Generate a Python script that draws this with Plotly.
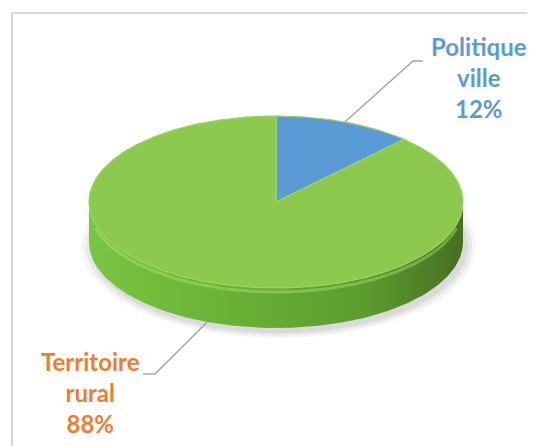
import numpy as np
import plotly.graph_objects as go

# ---- data ----
categories = ["Politique ville", "Territoire rural"]
values = [12, 88]
label_lines = [["Politique", "ville"], ["Territoire", "rural"]]

# ---- styles / layout constants ----
face_colors = ["#5B9BD5", "#8DC94E"]
label_colors = ["#5B9BD5", "#ED7D31"]
label_centers = [(479, 77), (90, 392)]
leader_elbows = [(413, 61), (155, 374)]
leader_ends = [(423, 61), (143, 374)]

W, H = 535, 446
PAD = 8  # page body margin
cx, cy, rx, ry, depth = 276, 202, 187, 86, 40


def pt(theta_deg, dy=0.0):
    t = np.radians(theta_deg)
    return cx + rx * np.sin(t), cy - ry * np.cos(t) + dy


total = float(sum(values))
fig = go.Figure()

# soft shadow under the disc
for grow, alpha in [(10, 0.04), (6, 0.05), (2, 0.06)]:
    th = np.linspace(0, 360, 241)
    t = np.radians(th)
    sx = cx + 3 + (rx + grow) * np.sin(t)
    sy = cy + depth + 4 - (ry + grow * 0.6) * np.cos(t)
    fig.add_trace(go.Scatter(x=sx, y=sy, mode="lines", fill="toself",
                             fillcolor=f"rgba(0,0,0,{alpha})",
                             line=dict(width=0), hoverinfo="skip"))

# side band (visible lower half) of the disc
th = np.linspace(90, 270, 181)
tx, ty = pt(th)
bx, by = pt(th[::-1], depth)
fig.add_trace(go.Scatter(
    x=np.concatenate([tx, bx]), y=np.concatenate([ty, by]),
    mode="lines", fill="toself",
    fillgradient=dict(type="horizontal",
                      colorscale=[[0, "#79C643"], [0.35, "#6BB236"],
                                  [0.75, "#5C9A2E"], [1, "#466F22"]]),
    line=dict(width=0), hoverinfo="skip"))

# bevel highlight along the rim
th = np.linspace(105, 255, 151)
hx, hy = pt(th, 4)
fig.add_trace(go.Scatter(x=hx, y=hy, mode="lines",
                         line=dict(color="rgba(180,235,130,0.4)", width=3),
                         hoverinfo="skip"))

# top face slices, starting at 12 o'clock, clockwise
start = 0.0
mids = []
for v, col in zip(values, face_colors):
    span = v / total * 360.0
    th = np.linspace(start, start + span, max(int(span * 2), 3))
    ex, ey = pt(th)
    fig.add_trace(go.Scatter(
        x=np.concatenate([[cx], ex, [cx]]), y=np.concatenate([[cy], ey, [cy]]),
        mode="lines", fill="toself", fillcolor=col,
        line=dict(color="#9AD65C", width=1.2), hoverinfo="skip"))
    mids.append(start + span / 2)
    start += span

# leader lines and labels
for i, (lines, v) in enumerate(zip(label_lines, values)):
    m = mids[i]
    dy = depth if np.cos(np.radians(m)) < 0 else 0
    px, py = pt(m, dy)
    ex_, ey_ = leader_elbows[i]
    lx, ly = leader_ends[i]
    fig.add_trace(go.Scatter(x=[px, ex_, lx], y=[py, ey_, ly], mode="lines",
                             line=dict(color="#A6A6A6", width=1.5),
                             hoverinfo="skip"))
    txt = "<b>" + "<br>".join(lines + [f"{v / total * 100:.0f}%"]) + "</b>"
    fig.add_annotation(x=label_centers[i][0], y=label_centers[i][1], text=txt,
                       showarrow=False, xanchor="center", yanchor="middle",
                       align="center",
                       font=dict(family="Lato", size=24, color=label_colors[i]))

# chart area border: only top and left edges are visible in the original crop
fig.add_shape(type="line", x0=12, y0=13, x1=W + 80, y1=13,
              line=dict(color="#D9D9D9", width=2), layer="below")
fig.add_shape(type="line", x0=12, y0=13, x1=12, y1=H + 80,
              line=dict(color="#D9D9D9", width=2), layer="below")

fig.update_layout(
    width=W - PAD, height=H - PAD, autosize=False,
    margin=dict(l=0, r=0, t=0, b=0),
    paper_bgcolor="white", plot_bgcolor="white",
    showlegend=False,
    xaxis=dict(range=[PAD, W], visible=False, fixedrange=True),
    yaxis=dict(range=[H, PAD], visible=False, fixedrange=True),
)

fig.write_html("out.html")
